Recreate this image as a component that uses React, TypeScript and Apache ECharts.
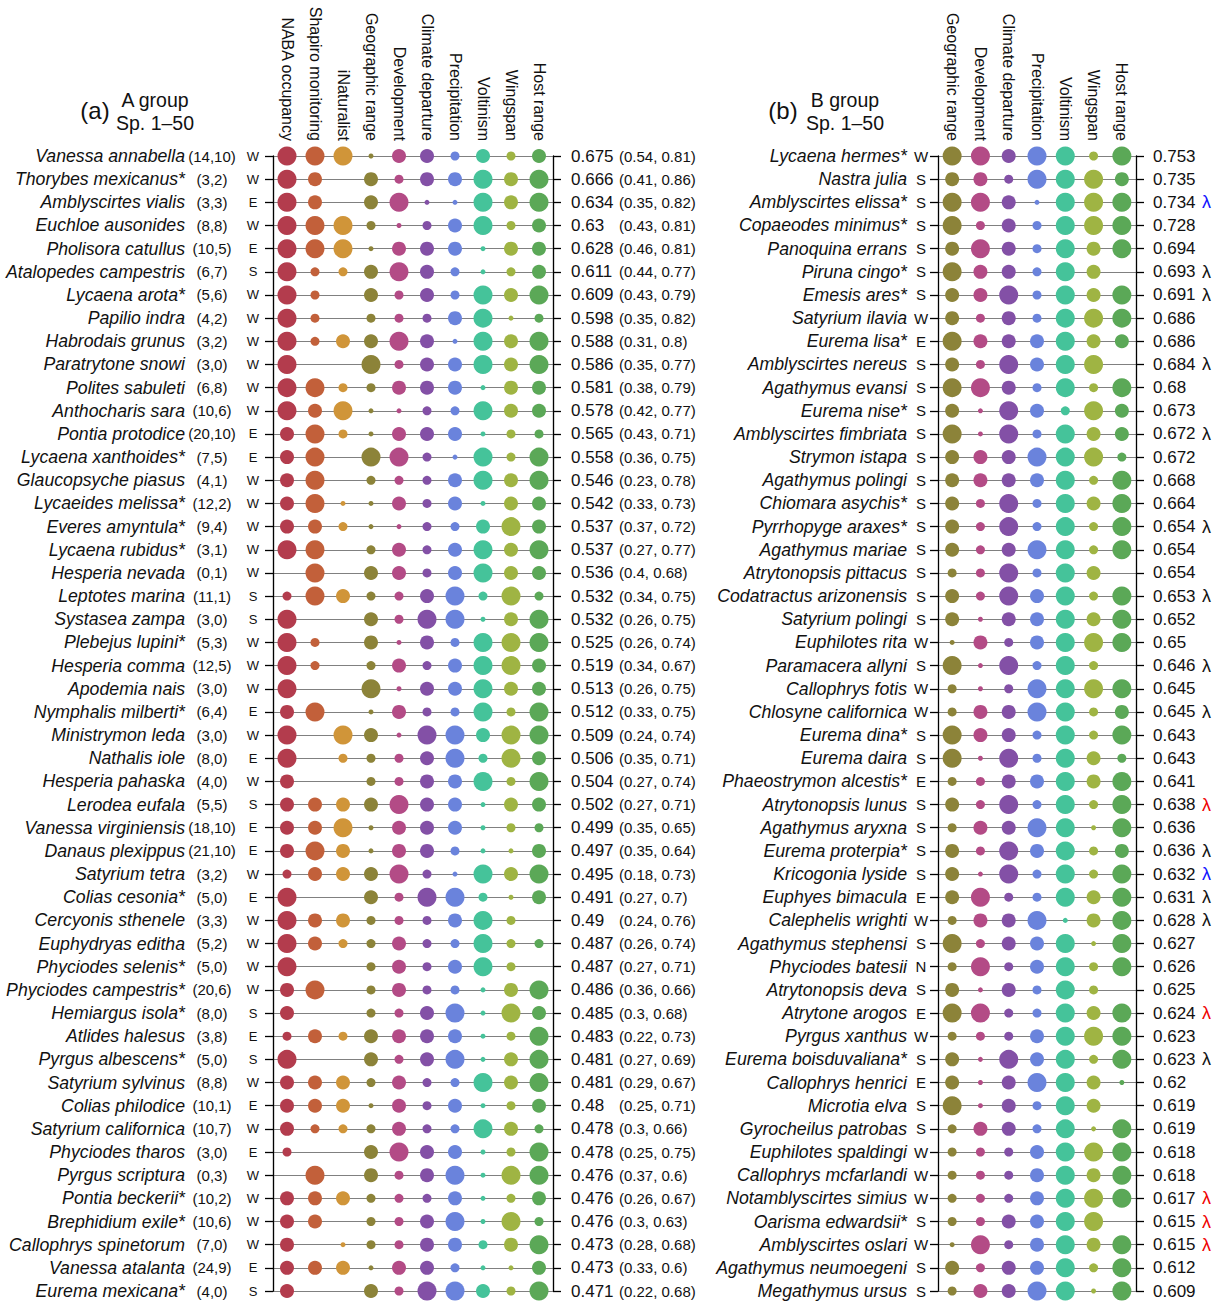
import React, { useEffect, useRef } from 'react';
import * as echarts from 'echarts';

const FONT = '"Liberation Sans", Arial, Helvetica, sans-serif';

// ---------- Panel A data ----------
const colsA = ['NABA occupancy', 'Shapiro monitoring', 'iNaturalist', 'Geographic range', 'Development', 'Climate departure', 'Precipitation', 'Voltinism', 'Wingspan', 'Host range'];
const colorsA = ['#b33c4d', '#c2603a', '#d09539', '#8c8339', '#b34b86', '#8350a6', '#6a83dc', '#45c39a', '#9fb443', '#5ba857'];

const speciesA = ['Vanessa annabella', 'Thorybes mexicanus*', 'Amblyscirtes vialis', 'Euchloe ausonides', 'Pholisora catullus', 'Atalopedes campestris', 'Lycaena arota*', 'Papilio indra', 'Habrodais grunus', 'Paratrytone snowi', 'Polites sabuleti', 'Anthocharis sara', 'Pontia protodice', 'Lycaena xanthoides*', 'Glaucopsyche piasus', 'Lycaeides melissa*', 'Everes amyntula*', 'Lycaena rubidus*', 'Hesperia nevada', 'Leptotes marina', 'Systasea zampa', 'Plebejus lupini*', 'Hesperia comma', 'Apodemia nais', 'Nymphalis milberti*', 'Ministrymon leda', 'Nathalis iole', 'Hesperia pahaska', 'Lerodea eufala', 'Vanessa virginiensis', 'Danaus plexippus', 'Satyrium tetra', 'Colias cesonia*', 'Cercyonis sthenele', 'Euphydryas editha', 'Phyciodes selenis*', 'Phyciodes campestris*', 'Hemiargus isola*', 'Atlides halesus', 'Pyrgus albescens*', 'Satyrium sylvinus', 'Colias philodice', 'Satyrium californica', 'Phyciodes tharos', 'Pyrgus scriptura', 'Pontia beckerii*', 'Brephidium exile*', 'Callophrys spinetorum', 'Vanessa atalanta', 'Eurema mexicana*'];
const countsA = [[14, 10], [3, 2], [3, 3], [8, 8], [10, 5], [6, 7], [5, 6], [4, 2], [3, 2], [3, 0], [6, 8], [10, 6], [20, 10], [7, 5], [4, 1], [12, 2], [9, 4], [3, 1], [0, 1], [11, 1], [3, 0], [5, 3], [12, 5], [3, 0], [6, 4], [3, 0], [8, 0], [4, 0], [5, 5], [18, 10], [21, 10], [3, 2], [5, 0], [3, 3], [5, 2], [5, 0], [20, 6], [8, 0], [3, 8], [5, 0], [8, 8], [10, 1], [10, 7], [3, 0], [0, 3], [10, 2], [10, 6], [7, 0], [24, 9], [4, 0]];
const regionA = ['W', 'W', 'E', 'W', 'E', 'S', 'W', 'W', 'W', 'W', 'W', 'W', 'E', 'E', 'W', 'W', 'W', 'W', 'W', 'S', 'S', 'W', 'W', 'W', 'E', 'W', 'E', 'W', 'S', 'E', 'E', 'W', 'E', 'W', 'W', 'W', 'W', 'S', 'E', 'S', 'W', 'E', 'W', 'E', 'W', 'W', 'W', 'W', 'E', 'S'];
const meanA = [0.675, 0.666, 0.634, 0.63, 0.628, 0.611, 0.609, 0.598, 0.588, 0.586, 0.581, 0.578, 0.565, 0.558, 0.546, 0.542, 0.537, 0.537, 0.536, 0.532, 0.532, 0.525, 0.519, 0.513, 0.512, 0.509, 0.506, 0.504, 0.502, 0.499, 0.497, 0.495, 0.491, 0.49, 0.487, 0.487, 0.486, 0.485, 0.483, 0.481, 0.481, 0.48, 0.478, 0.478, 0.476, 0.476, 0.476, 0.473, 0.473, 0.471];
const lowA = [0.54, 0.41, 0.35, 0.43, 0.46, 0.44, 0.43, 0.35, 0.31, 0.35, 0.38, 0.42, 0.43, 0.36, 0.23, 0.33, 0.37, 0.27, 0.4, 0.34, 0.26, 0.26, 0.34, 0.26, 0.33, 0.24, 0.35, 0.27, 0.27, 0.35, 0.35, 0.18, 0.27, 0.24, 0.26, 0.27, 0.36, 0.3, 0.22, 0.27, 0.29, 0.25, 0.3, 0.25, 0.37, 0.26, 0.3, 0.28, 0.33, 0.22];
const highA = [0.81, 0.86, 0.82, 0.81, 0.81, 0.77, 0.79, 0.82, 0.8, 0.77, 0.79, 0.77, 0.71, 0.75, 0.78, 0.73, 0.72, 0.77, 0.68, 0.75, 0.75, 0.74, 0.67, 0.75, 0.75, 0.74, 0.71, 0.74, 0.71, 0.65, 0.64, 0.73, 0.7, 0.76, 0.74, 0.71, 0.66, 0.68, 0.73, 0.69, 0.67, 0.71, 0.66, 0.75, 0.6, 0.67, 0.63, 0.68, 0.6, 0.68];

// dot size classes (0 = absent, 1..4 = increasing)
const nabaA = [4, 4, 4, 4, 4, 4, 4, 4, 4, 4, 4, 4, 3, 3, 3, 3, 3, 4, 0, 2, 4, 4, 4, 4, 3, 4, 4, 3, 3, 3, 3, 2, 4, 4, 4, 4, 3, 3, 2, 4, 3, 3, 3, 2, 0, 3, 3, 3, 3, 3];
const shapiroA = [4, 3, 3, 4, 4, 2, 2, 2, 2, 0, 4, 3, 4, 4, 4, 4, 3, 4, 4, 4, 0, 2, 2, 0, 4, 0, 0, 0, 3, 3, 4, 3, 0, 3, 3, 0, 4, 0, 3, 0, 3, 3, 2, 0, 4, 3, 3, 0, 3, 0];
const inatA = [4, 0, 0, 4, 4, 2, 0, 0, 3, 0, 2, 4, 2, 0, 0, 1, 2, 0, 0, 3, 0, 0, 0, 0, 0, 4, 2, 0, 3, 4, 3, 3, 0, 3, 2, 0, 0, 0, 2, 0, 3, 3, 2, 0, 0, 3, 0, 1, 3, 0];
const geoA = [1, 3, 3, 2, 1, 3, 3, 2, 3, 4, 2, 1, 1, 4, 2, 1, 1, 2, 3, 2, 3, 3, 2, 4, 1, 3, 2, 2, 3, 1, 1, 3, 3, 2, 2, 2, 2, 2, 3, 3, 2, 1, 2, 3, 3, 2, 2, 2, 1, 3];
const devA = [3, 2, 4, 1, 3, 4, 2, 2, 4, 2, 3, 1, 3, 4, 2, 3, 1, 3, 3, 2, 2, 1, 3, 1, 3, 1, 2, 2, 4, 3, 3, 4, 2, 2, 3, 3, 3, 2, 3, 2, 3, 3, 3, 4, 2, 2, 2, 2, 3, 2];
const climA = [3, 3, 1, 2, 3, 3, 3, 2, 3, 3, 3, 2, 3, 2, 2, 2, 2, 2, 2, 3, 4, 3, 2, 3, 2, 4, 3, 3, 3, 3, 3, 2, 4, 2, 2, 2, 2, 3, 3, 3, 2, 2, 2, 3, 3, 2, 3, 3, 3, 4];
const precA = [2, 3, 1, 3, 3, 2, 2, 3, 1, 3, 3, 2, 3, 1, 3, 3, 2, 3, 3, 4, 4, 2, 3, 3, 2, 4, 4, 3, 3, 3, 2, 1, 4, 3, 2, 3, 2, 4, 3, 4, 2, 3, 2, 3, 4, 3, 4, 3, 2, 4];
const voltA = [3, 4, 4, 4, 1, 1, 4, 4, 4, 4, 1, 4, 1, 4, 4, 1, 3, 4, 4, 2, 1, 4, 4, 4, 4, 3, 2, 4, 1, 1, 1, 4, 2, 4, 4, 4, 1, 1, 1, 1, 4, 1, 4, 1, 1, 1, 1, 2, 1, 3];
const wingA = [2, 3, 3, 2, 3, 2, 3, 1, 3, 3, 3, 3, 2, 2, 3, 3, 4, 3, 3, 4, 3, 4, 4, 3, 2, 4, 4, 2, 3, 2, 1, 3, 1, 2, 2, 2, 3, 4, 2, 3, 3, 2, 3, 2, 4, 2, 4, 3, 1, 2];
const hostA = [3, 4, 4, 3, 3, 3, 4, 2, 4, 4, 3, 3, 2, 4, 4, 3, 3, 4, 3, 2, 4, 4, 3, 3, 4, 4, 3, 4, 3, 2, 3, 4, 3, 0, 2, 0, 4, 3, 4, 4, 4, 3, 2, 4, 4, 3, 2, 4, 3, 4];

// ---------- Panel B data ----------
const colsB = ['Geographic range', 'Development', 'Climate departure', 'Precipitation', 'Voltinism', 'Wingspan', 'Host range'];
const colorsB = ['#8c8339', '#b34b86', '#8350a6', '#6a83dc', '#45c39a', '#9fb443', '#5ba857'];

const speciesB = ['Lycaena hermes*', 'Nastra julia', 'Amblyscirtes elissa*', 'Copaeodes minimus*', 'Panoquina errans', 'Piruna cingo*', 'Emesis ares*', 'Satyrium ilavia', 'Eurema lisa*', 'Amblyscirtes nereus', 'Agathymus evansi', 'Eurema nise*', 'Amblyscirtes fimbriata', 'Strymon istapa', 'Agathymus polingi', 'Chiomara asychis*', 'Pyrrhopyge araxes*', 'Agathymus mariae', 'Atrytonopsis pittacus', 'Codatractus arizonensis', 'Satyrium polingi', 'Euphilotes rita', 'Paramacera allyni', 'Callophrys fotis', 'Chlosyne californica', 'Eurema dina*', 'Eurema daira', 'Phaeostrymon alcestis*', 'Atrytonopsis lunus', 'Agathymus aryxna', 'Eurema proterpia*', 'Kricogonia lyside', 'Euphyes bimacula', 'Calephelis wrighti', 'Agathymus stephensi', 'Phyciodes batesii', 'Atrytonopsis deva', 'Atrytone arogos', 'Pyrgus xanthus', 'Eurema boisduvaliana*', 'Callophrys henrici', 'Microtia elva', 'Gyrocheilus patrobas', 'Euphilotes spaldingi', 'Callophrys mcfarlandi', 'Notamblyscirtes simius', 'Oarisma edwardsii*', 'Amblyscirtes oslari', 'Agathymus neumoegeni', 'Megathymus ursus'];
const regionB = ['W', 'S', 'S', 'S', 'S', 'S', 'S', 'W', 'E', 'S', 'S', 'S', 'S', 'S', 'S', 'S', 'S', 'S', 'S', 'S', 'S', 'W', 'S', 'W', 'W', 'S', 'S', 'E', 'S', 'S', 'S', 'S', 'E', 'W', 'S', 'N', 'S', 'E', 'W', 'S', 'E', 'S', 'S', 'W', 'W', 'W', 'S', 'W', 'S', 'S'];
const meanB = [0.753, 0.735, 0.734, 0.728, 0.694, 0.693, 0.691, 0.686, 0.686, 0.684, 0.68, 0.673, 0.672, 0.672, 0.668, 0.664, 0.654, 0.654, 0.654, 0.653, 0.652, 0.65, 0.646, 0.645, 0.645, 0.643, 0.643, 0.641, 0.638, 0.636, 0.636, 0.632, 0.631, 0.628, 0.627, 0.626, 0.625, 0.624, 0.623, 0.623, 0.62, 0.619, 0.619, 0.618, 0.618, 0.617, 0.615, 0.615, 0.612, 0.609];
// lambda flag: '' none, 'k' black, 'r' red, 'b' blue
const lambdaB = ['', '', 'b', '', '', 'k', 'k', '', '', 'k', '', '', 'k', '', '', '', 'k', '', '', 'k', '', '', 'k', '', 'k', '', '', '', 'r', '', 'k', 'b', 'k', 'k', '', '', '', 'r', '', 'k', '', '', '', '', '', 'r', 'r', 'r', '', ''];

const geoB = [4, 3, 4, 4, 3, 4, 3, 3, 4, 3, 4, 3, 4, 3, 3, 3, 3, 3, 2, 3, 3, 1, 4, 2, 2, 4, 4, 2, 3, 2, 3, 3, 3, 2, 4, 2, 3, 4, 2, 3, 3, 4, 2, 2, 2, 2, 2, 1, 3, 2];
const devB = [4, 3, 4, 2, 4, 3, 3, 2, 3, 2, 4, 1, 1, 3, 3, 2, 2, 2, 2, 2, 1, 3, 1, 1, 3, 3, 1, 2, 2, 3, 2, 1, 4, 3, 2, 4, 1, 4, 2, 1, 1, 1, 3, 2, 2, 2, 2, 4, 2, 3];
const climB = [3, 2, 3, 3, 3, 3, 4, 3, 3, 4, 3, 4, 4, 3, 3, 4, 4, 3, 4, 4, 3, 2, 4, 2, 3, 3, 4, 3, 4, 3, 4, 4, 2, 3, 3, 2, 3, 2, 2, 4, 3, 3, 3, 2, 2, 2, 3, 2, 3, 3];
const precB = [4, 4, 1, 2, 2, 2, 2, 2, 3, 3, 2, 3, 2, 4, 3, 2, 2, 4, 2, 3, 3, 3, 2, 4, 4, 2, 2, 3, 2, 4, 3, 2, 2, 4, 3, 3, 2, 2, 3, 3, 4, 2, 2, 3, 3, 3, 3, 3, 3, 4];
const voltB = [4, 4, 4, 4, 4, 4, 4, 4, 4, 4, 4, 2, 4, 4, 4, 4, 4, 4, 4, 4, 4, 4, 4, 4, 4, 4, 4, 4, 4, 4, 4, 4, 4, 1, 4, 4, 4, 4, 4, 4, 4, 4, 4, 4, 4, 4, 4, 4, 4, 4];
const wingB = [2, 4, 4, 4, 3, 3, 3, 4, 3, 4, 2, 4, 3, 4, 2, 3, 2, 2, 3, 2, 3, 4, 2, 4, 2, 2, 3, 3, 2, 1, 2, 2, 3, 3, 1, 2, 2, 3, 4, 2, 3, 3, 1, 4, 3, 4, 4, 3, 2, 1];
const hostB = [4, 3, 4, 4, 4, 0, 4, 4, 3, 0, 4, 3, 3, 2, 4, 4, 4, 4, 0, 4, 4, 4, 0, 4, 3, 4, 2, 4, 4, 4, 3, 4, 4, 4, 4, 4, 0, 4, 4, 4, 1, 0, 4, 4, 4, 4, 0, 4, 4, 4];

const SIZE = [0, 5, 9, 14, 19];

const valsA = [nabaA, shapiroA, inatA, geoA, devA, climA, precA, voltA, wingA, hostA];
const valsB = [geoB, devB, climB, precB, voltB, wingB, hostB];

function catY(gridIndex: number, data: string[], position: string, label: any, extra: any = {}) {
  return {
    type: 'category',
    gridIndex,
    data,
    inverse: true,
    boundaryGap: false,
    position,
    axisLine: { show: false },
    axisTick: { show: false },
    splitLine: { show: false },
    axisLabel: { interval: 0, fontFamily: FONT, color: '#111', ...label },
    ...extra,
  };
}

function buildOption() {
  const idxA = speciesA.map((_, i) => String(i));
  const idxB = speciesB.map((_, i) => String(i));
  const axisBlack = { show: true, lineStyle: { color: '#000', width: 1.3 } };
  const tickBlack = { show: true, interval: 0, length: 8, lineStyle: { color: '#000', width: 1.3 } };
  const rowLines = { show: true, interval: 0, lineStyle: { color: '#808080', width: 1 } };

  const yAxis: any[] = [
    // panel A
    catY(0, idxA, 'left', { formatter: (_v: string, i: number) => regionA[i], align: 'center', margin: 20, fontSize: 13 }, { axisLine: axisBlack, axisTick: tickBlack, splitLine: rowLines }),
    catY(0, idxA, 'left', { formatter: (_v: string, i: number) => '(' + countsA[i][0] + ',' + countsA[i][1] + ')', align: 'center', margin: 61, fontSize: 15 }),
    catY(0, idxA, 'left', { formatter: (_v: string, i: number) => speciesA[i], align: 'right', margin: 88, fontSize: 17.7, fontStyle: 'italic' }),
    catY(0, idxA, 'right', { formatter: (_v: string, i: number) => String(meanA[i]), align: 'left', margin: 18, fontSize: 17 }, { axisLine: axisBlack, axisTick: tickBlack }),
    catY(0, idxA, 'right', { formatter: (_v: string, i: number) => '(' + lowA[i] + ', ' + highA[i] + ')', align: 'left', margin: 66, fontSize: 15 }),
    // panel B
    catY(1, idxB, 'left', { formatter: (_v: string, i: number) => regionB[i], align: 'center', margin: 17, fontSize: 15 }, { axisLine: axisBlack, axisTick: tickBlack, splitLine: rowLines }),
    catY(1, idxB, 'left', { formatter: (_v: string, i: number) => speciesB[i], align: 'right', margin: 31, fontSize: 17.7, fontStyle: 'italic' }),
    catY(1, idxB, 'right', { formatter: (_v: string, i: number) => String(meanB[i]), align: 'left', margin: 17, fontSize: 17 }, { axisLine: axisBlack, axisTick: tickBlack }),
    catY(1, idxB, 'right', {
      formatter: (_v: string, i: number) => (lambdaB[i] ? '{' + lambdaB[i] + '|λ}' : ''),
      align: 'left', margin: 66, fontSize: 18,
      rich: { k: { color: '#111', fontSize: 18, fontFamily: FONT }, r: { color: '#f00000', fontSize: 18, fontFamily: FONT }, b: { color: '#1010ff', fontSize: 18, fontFamily: FONT } },
    }),
  ];

  const xLabel = { rotate: 90, interval: 0, margin: 15, fontSize: 16, fontFamily: FONT, color: '#111' };
  const xAxis: any[] = [
    {
      type: 'category', gridIndex: 0, data: colsA, position: 'top', boundaryGap: true,
      axisLine: { show: false }, axisTick: { show: false }, axisLabel: xLabel,
      splitLine: { show: true, interval: (i: number) => i === 3, lineStyle: { color: '#c4c4c4', width: 1.2 } },
    },
    {
      type: 'category', gridIndex: 1, data: colsB, position: 'top', boundaryGap: true,
      axisLine: { show: false }, axisTick: { show: false }, axisLabel: xLabel, splitLine: { show: false },
    },
  ];

  const series: any[] = [];
  valsA.forEach((arr, c) => {
    series.push({
      type: 'scatter', xAxisIndex: 0, yAxisIndex: 0,
      data: arr.map((lvl, r) => [c, r, lvl]).filter((d) => d[2] > 0),
      symbolSize: (v: number[]) => SIZE[v[2]],
      itemStyle: { color: colorsA[c], opacity: 1 },
      z: 5,
    });
  });
  valsB.forEach((arr, c) => {
    series.push({
      type: 'scatter', xAxisIndex: 1, yAxisIndex: 5,
      data: arr.map((lvl, r) => [c, r, lvl]).filter((d) => d[2] > 0),
      symbolSize: (v: number[]) => SIZE[v[2]],
      itemStyle: { color: colorsB[c], opacity: 1 },
      z: 5,
    });
  });

  const tStyle = (text: string, size: number) => ({ text, fill: '#111', font: size + 'px ' + FONT, textAlign: 'center', textVerticalAlign: 'middle' });
  const graphic = [
    { type: 'text', x: 95, y: 110, style: tStyle('(a)', 24) },
    { type: 'text', x: 155, y: 100, style: tStyle('A group', 19.5) },
    { type: 'text', x: 155, y: 123, style: tStyle('Sp. 1–50', 19.5) },
    { type: 'text', x: 783, y: 110, style: tStyle('(b)', 24) },
    { type: 'text', x: 845, y: 100, style: tStyle('B group', 19.5) },
    { type: 'text', x: 845, y: 123, style: tStyle('Sp. 1–50', 19.5) },
  ];

  return {
    animation: false,
    backgroundColor: '#fff',
    textStyle: { fontFamily: FONT },
    grid: [
      { left: 273, top: 156, width: 280, height: 1135 },
      { left: 938, top: 156, width: 198, height: 1135 },
    ],
    xAxis,
    yAxis,
    series,
    graphic,
  };
}

export default function App() {
  const ref = useRef<HTMLDivElement>(null);
  useEffect(() => {
    if (!ref.current) return;
    const chart = echarts.init(ref.current, undefined, { renderer: 'svg' });
    chart.setOption(buildOption() as any);
    return () => chart.dispose();
  }, []);
  return (
    <div
      ref={ref}
      style={{ position: 'fixed', left: 0, top: 0, width: 1225, height: 1302, background: '#fff' }}
    />
  );
}
